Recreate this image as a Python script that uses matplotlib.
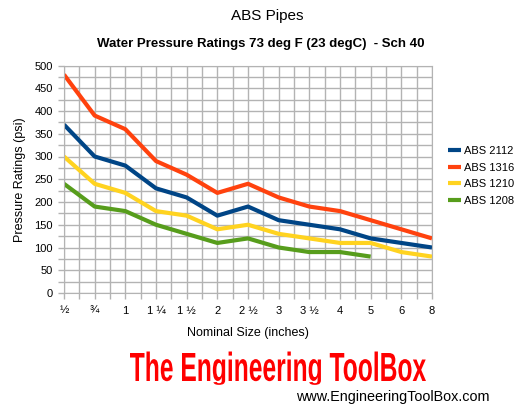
import numpy as np
import matplotlib
matplotlib.use("Agg")
import matplotlib.pyplot as plt
from matplotlib.textpath import TextPath
from matplotlib.font_manager import FontProperties
from matplotlib.patches import PathPatch
from matplotlib.path import Path

sizes = ['½', '¾', '1', '1 ¼', '1 ½', '2', '2 ½', '3', '3 ½', '4', '5', '6', '8']
abs_2112 = [370, 300, 280, 230, 210, 170, 190, 160, 150, 140, 120, 110, 100]
abs_1316 = [480, 390, 360, 290, 260, 220, 240, 210, 190, 180, 160, 140, 120]
abs_1210 = [300, 240, 220, 180, 170, 140, 150, 130, 120, 110, 110, 90, 80]
abs_1208 = [240, 190, 180, 150, 130, 110, 120, 100, 90, 90, 80]

series = [('ABS 2112', abs_2112, '#004586'),
          ('ABS 1316', abs_1316, '#ff420e'),
          ('ABS 1210', abs_1210, '#ffd320'),
          ('ABS 1208', abs_1208, '#579d1c')]

plt.rcParams['font.family'] = ['Liberation Sans', 'DejaVu Sans']

W, H = 530, 409
fig = plt.figure(figsize=(W / 100, H / 100), dpi=100)
ax = fig.add_axes([64 / W, 1 - 293 / H, 368 / W, 227.5 / H])

grid_c = '#b3b3b3'
for name, vals, col in series:
    ax.plot(range(len(vals)), vals, color=col, lw=3, label=name, solid_capstyle='butt')

ax.set_xlim(0, len(sizes) - 1)
ax.set_ylim(0, 500)
ax.set_xticks(range(len(sizes)))
ax.set_xticklabels(sizes, fontsize=8)
ax.set_xticks(np.arange(0.5, len(sizes) - 1, 1), minor=True)
ax.set_yticks(range(0, 501, 50))
ax.set_yticks(range(25, 500, 50), minor=True)
ax.tick_params(axis='y', labelsize=8, pad=4)
ax.tick_params(axis='x', pad=5)
ax.tick_params(which='both', color=grid_c, length=4, width=1)
ax.grid(True, which='both', color=grid_c, lw=1)
ax.set_axisbelow(True)
for s in ax.spines.values():
    s.set_color(grid_c)

ax.set_ylabel('Pressure Ratings (psi)', fontsize=9, labelpad=6)
ax.set_xlabel('Nominal Size (inches)', fontsize=9, labelpad=8)

fig.text(267 / W, 1 - 16 / H, 'ABS Pipes', ha='center', va='center', fontsize=11)
fig.text(261 / W, 1 - 44 / H, 'Water Pressure Ratings 73 deg F (23 degC)  - Sch 40',
         ha='center', va='center', fontsize=9.5, fontweight='bold')

ax.legend(loc='center left', bbox_to_anchor=(1.015, 0.515), frameon=False, fontsize=8,
          handlelength=1.2, handletextpad=0.25, labelspacing=0.6)

# watermark logo, stretched to the box it fills in the picture
prop = FontProperties(family=['Liberation Sans Narrow', 'Liberation Sans'], weight='bold')
tp = TextPath((0, 0), 'The Engineering ToolBox', size=1, prop=prop)
cap = TextPath((0, 0), 'T', size=1, prop=prop).get_extents().y1
ext = tp.get_extents()
sx = 296 / (ext.x1 - ext.x0)
sy = 28 / cap
v = tp.vertices.copy()
v[:, 0] = (130 + (v[:, 0] - ext.x0) * sx) / W
v[:, 1] = (H - 381 + v[:, 1] * sy * np.where(tp.vertices[:, 1] < 0, 0.45, 1.0)) / H
fig.patches.append(PathPatch(Path(v, tp.codes), facecolor='#ff0000', edgecolor='none',
                             transform=fig.transFigure, figure=fig))

fig.text(490 / W, 1 - 397 / H, 'www.EngineeringToolBox.com', ha='right', va='center',
         fontsize=10.4)

fig.savefig('out.png', dpi=100)
